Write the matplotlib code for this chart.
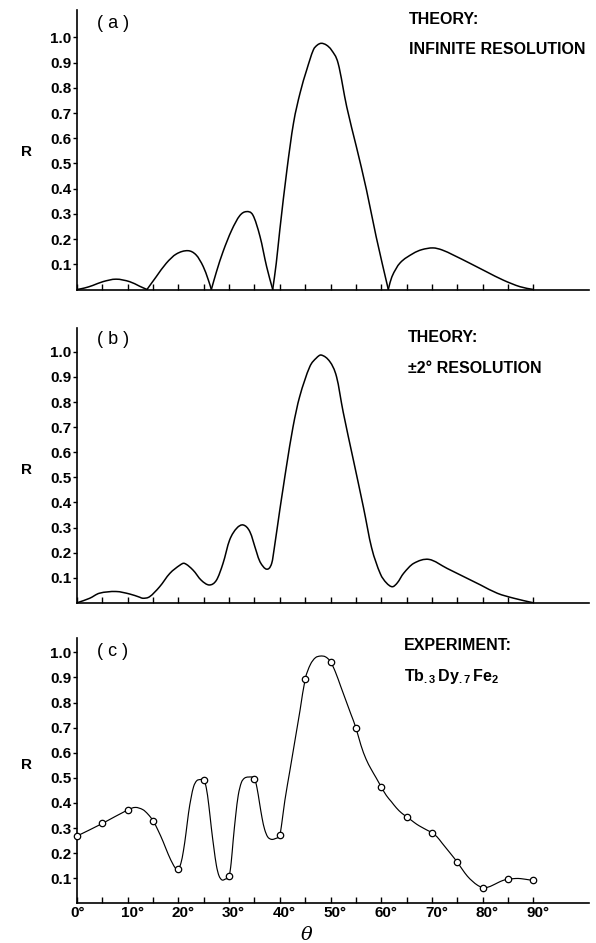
import matplotlib
matplotlib.use("Agg")
import matplotlib.pyplot as plt
import matplotlib.transforms as mtransforms
from matplotlib.path import Path
from matplotlib.patches import PathPatch
import numpy as np

# ---------------- data ----------------
# (a) theory, infinite resolution
theta_a = [0, 1.5, 3.1, 5.1, 7.7, 10.4, 12.35, 13.8, 15.6, 17.6, 19.6, 21.9, 23.5,
           24.9, 25.9, 26.5, 27.5, 28.8, 30.5, 32.1, 33.4, 34.7, 36.1, 37.4, 38.6,
           39.3, 40.0, 41.4, 42.7, 44.0, 45.3, 46.6, 47.4, 48.2, 49.2, 50.2, 51.5,
           53.2, 55.1, 57.1, 59.0, 61.4, 62.1, 63.7, 66.3, 68.0, 70.2, 72.0,
           74.2, 77.5, 80.8, 84.1, 87.4, 90]
r_a = [0, 0.006, 0.016, 0.031, 0.041, 0.031, 0.013, 0, 0.05, 0.104, 0.141, 0.154, 0.137,
       0.091, 0.038, 0, 0.07, 0.15, 0.235, 0.293, 0.309, 0.295, 0.21, 0.091, 0,
       0.104, 0.236, 0.474, 0.66, 0.78, 0.871, 0.95, 0.97, 0.977, 0.97, 0.95, 0.898,
       0.725, 0.567, 0.395, 0.21, 0, 0.05, 0.105, 0.143, 0.158, 0.165, 0.157,
       0.137, 0.104, 0.07, 0.037, 0.011, 0]

# (b) theory, +-2 deg resolution
theta_b = [0, 2.5, 4.4, 7.7, 10.4, 12.4, 13.0, 14.3, 16.3, 18.3, 20.3, 21.2, 22.9, 24.5,
           26.1, 27.5, 28.8, 30.1, 31.5, 32.8, 34.1, 35.4, 36.1, 37.4, 38.4, 39.05,
           40.0, 40.7, 41.3, 42.6, 43.9, 45.9, 47.2, 48.2, 49.9, 51.2, 52.5, 54.5,
           56.5, 58.1, 59.8, 61.0, 62.2, 63.2, 64.4, 66.4, 69.4, 73.0, 76.3, 79.6,
           82.9, 86.2, 90]
r_b = [0, 0.018, 0.038, 0.045, 0.035, 0.022, 0.018, 0.024, 0.064, 0.117, 0.15, 0.157, 0.13,
       0.09, 0.071, 0.09, 0.157, 0.25, 0.297, 0.31, 0.283, 0.203, 0.163, 0.134, 0.157,
       0.237, 0.37, 0.463, 0.542, 0.70, 0.82, 0.94, 0.975, 0.987, 0.96, 0.9, 0.76, 0.57,
       0.38, 0.22, 0.117, 0.08, 0.064, 0.08, 0.117, 0.157, 0.173, 0.137, 0.104, 0.071,
       0.038, 0.018, 0]

# (c) experiment: measured points
theta_pts = [0, 5, 10, 15, 20, 25, 30, 35, 40, 45, 50, 55, 60, 65, 70, 75, 80, 85, 90]
r_pts = [0.268, 0.318, 0.372, 0.329, 0.137, 0.491, 0.107, 0.497, 0.272, 0.892,
         0.963, 0.700, 0.464, 0.345, 0.281, 0.164, 0.060, 0.096, 0.091]

# (c) hand-drawn guide curve through the points
theta_c = [0, 5, 10, 11.5, 13, 14, 15, 16, 17, 18, 19, 19.6, 20, 20.5, 21, 21.5, 22,
           22.5, 23, 23.6, 24.3, 25, 25.5, 26, 26.5, 27, 27.5, 28, 28.6, 29.3, 30,
           30.4, 30.8, 31.3, 31.8, 32.4, 33, 33.8, 35, 35.5, 36, 36.5, 37, 37.6, 38.3,
           39, 40, 40.4, 41, 42, 43, 44, 45, 46, 47, 48, 49, 50, 51, 52, 53, 54, 55,
           56, 57, 58, 59, 60, 61, 62, 63, 64, 65, 66, 67, 68, 69, 70, 71, 72, 73, 74,
           75, 76, 77, 78, 79, 80, 81, 82, 83, 84, 85, 86, 87, 88, 89, 90]
r_c = [0.268, 0.318, 0.372, 0.382, 0.373, 0.355, 0.329, 0.29, 0.245, 0.195, 0.153,
       0.136, 0.137, 0.16, 0.21, 0.28, 0.36, 0.42, 0.465, 0.488, 0.493, 0.491, 0.46,
       0.39, 0.30, 0.22, 0.15, 0.11, 0.093, 0.097, 0.107, 0.16, 0.25, 0.35, 0.43,
       0.48, 0.498, 0.503, 0.497, 0.46, 0.40, 0.34, 0.295, 0.265, 0.255, 0.257, 0.272,
       0.32, 0.41, 0.53, 0.65, 0.77, 0.892, 0.95, 0.978, 0.985, 0.982, 0.963, 0.92,
       0.865, 0.81, 0.755, 0.70, 0.63, 0.575, 0.535, 0.50, 0.464, 0.43, 0.405, 0.38,
       0.36, 0.345, 0.33, 0.315, 0.303, 0.292, 0.281, 0.265, 0.24, 0.215, 0.19, 0.164,
       0.135, 0.108, 0.088, 0.072, 0.063, 0.064, 0.072, 0.082, 0.091, 0.096, 0.098,
       0.099, 0.097, 0.094, 0.091]

y_ticks = [0.1, 0.2, 0.3, 0.4, 0.5, 0.6, 0.7, 0.8, 0.9, 1.0]
y_ticklabels = ["0.1", "0.2", "0.3", "0.4", "0.5", "0.6", "0.7", "0.8", "0.9", "1.0"]
x_ticks = list(range(0, 95, 5))
x_label_values = [0, 10, 20, 30, 40, 50, 60, 70, 80, 90]

panel_tags = ["( a )", "( b )", "( c )"]
panel_head = ["THEORY:", "THEORY:", "EXPERIMENT:"]
panel_sub = ["INFINITE RESOLUTION", "±2° RESOLUTION",
             r"$\mathrm{Tb}_{.3}\,\mathrm{Dy}_{.7}\,\mathrm{Fe}_{2}$"]

# ---------------- style / layout ----------------
W, H = 596, 943
plt.rcParams["font.family"] = ["Liberation Sans", "DejaVu Sans"]
plt.rcParams["mathtext.fontset"] = "custom"
plt.rcParams["mathtext.rm"] = "Liberation Sans:bold"
plt.rcParams["mathtext.it"] = "Liberation Sans:bold"
plt.rcParams["mathtext.bf"] = "Liberation Sans:bold"

fig = plt.figure(figsize=(W / 100, H / 100), dpi=100)
fig.patch.set_facecolor("white")

PX_PER_DEG = 5.07
X0 = 77          # pixel of theta = 0
XR = 589         # right end of x axis
boxes = [(10, 289.5, 25.2), (328, 602.8, 25.1), (638, 903.3, 25.1)]
TICK_FS = 11
TEXT_FS = 11.5


def fx(px):
    return px / W


def fy(py):
    return 1 - py / H


def smooth_path(xs, ys):
    """Cubic Hermite (Catmull-Rom style) path through the given knots."""
    xs = np.asarray(xs, float)
    ys = np.asarray(ys, float)
    n = len(xs)
    m = np.zeros(n)
    for i in range(n):
        if i == 0:
            m[i] = (ys[1] - ys[0]) / (xs[1] - xs[0])
        elif i == n - 1:
            m[i] = (ys[-1] - ys[-2]) / (xs[-1] - xs[-2])
        else:
            m[i] = (ys[i + 1] - ys[i - 1]) / (xs[i + 1] - xs[i - 1])
    verts = [(xs[0], ys[0])]
    codes = [Path.MOVETO]
    for i in range(n - 1):
        dx = xs[i + 1] - xs[i]
        verts += [(xs[i] + dx / 3, ys[i] + m[i] * dx / 3),
                  (xs[i + 1] - dx / 3, ys[i + 1] - m[i + 1] * dx / 3),
                  (xs[i + 1], ys[i + 1])]
        codes += [Path.CURVE4] * 3
    return Path(verts, codes)


def draw_curve(ax, xs, ys, lw, split_at_zero=False):
    segs = []
    if split_at_zero:
        start = 0
        for i in range(1, len(xs)):
            if ys[i] == 0:
                segs.append((xs[start:i + 1], ys[start:i + 1]))
                start = i
    else:
        segs.append((xs, ys))
    for sx, sy in segs:
        if len(sx) < 2:
            continue
        ax.add_patch(PathPatch(smooth_path(sx, sy), fill=False, edgecolor="black",
                               lw=lw, capstyle="round", joinstyle="round"))


axes = []
for (top, bot, per) in boxes:
    ax = fig.add_axes([fx(X0), fy(bot), (XR - X0) / W, (bot - top) / H])
    ax.set_xlim(0, (XR - X0) / PX_PER_DEG)
    ax.set_ylim(0, (bot - top) / per * 0.1)
    for s in ("top", "right"):
        ax.spines[s].set_visible(False)
    for s in ("left", "bottom"):
        ax.spines[s].set_linewidth(1.2)
        ax.spines[s].set_color("black")
    ax.set_yticks(y_ticks)
    ax.set_yticklabels(y_ticklabels, fontsize=TICK_FS, fontweight="bold")
    ax.tick_params(axis="y", direction="out", length=3, width=1, pad=1)
    ax.set_xticks(x_ticks)
    ax.tick_params(axis="x", direction="in", length=4, width=1, pad=2)
    ax.set_facecolor("none")
    axes.append(ax)

ax_a, ax_b, ax_c = axes
draw_curve(ax_a, theta_a, r_a, 1.1, split_at_zero=True)
draw_curve(ax_b, theta_b, r_b, 1.1)
draw_curve(ax_c, theta_c, r_c, 0.85)
ax_c.plot(theta_pts, r_pts, linestyle="none", marker="o", markersize=4.6,
          markerfacecolor="white", markeredgecolor="black", markeredgewidth=0.9,
          clip_on=False, zorder=5)

for ax in (ax_a, ax_b):
    ax.set_xticklabels([])
ax_c.set_xticklabels([f"{t}°" if t in x_label_values else "" for t in x_ticks],
                     fontsize=TICK_FS, fontweight="bold", ha="left")
offset = mtransforms.ScaledTranslation(-7 / 100, 0, fig.dpi_scale_trans)
for lbl in ax_c.get_xticklabels():
    lbl.set_transform(lbl.get_transform() + offset)

# ---------------- texts ----------------
r_y = [152, 470, 765]
tag_y = [23, 339.5, 651]
head_y = [20, 338, 646]
sub_y = [49, 368.5, 676]
head_x = [409, 408, 404]
for i in range(3):
    fig.text(fx(27), fy(r_y[i]), "R", fontsize=TICK_FS, fontweight="bold",
             ha="center", va="center")
    fig.text(fx(97), fy(tag_y[i]), panel_tags[i], fontsize=13,
             ha="left", va="center")
    fig.text(fx(head_x[i]), fy(head_y[i]), panel_head[i], fontsize=TEXT_FS,
             fontweight="bold", ha="left", va="center")
    fig.text(fx(head_x[i]), fy(sub_y[i]), panel_sub[i], fontsize=TEXT_FS,
             fontweight="bold", ha="left", va="center")

fig.text(fx(307), fy(935), "θ", fontsize=14, ha="center", va="center",
         family="DejaVu Serif", fontstyle="italic")

fig.savefig("out.png", dpi=100, facecolor="white")
